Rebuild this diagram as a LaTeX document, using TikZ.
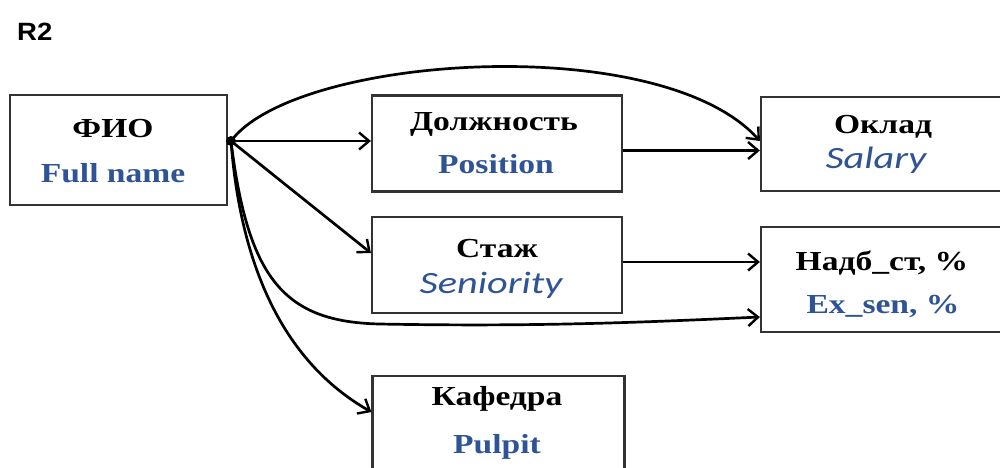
\documentclass[tikz,border=0pt]{standalone}
\usepackage{fontspec}
\setmainfont{Liberation Serif}
\newfontfamily\serifB{Liberation Serif}[FakeStretch=1.22]
\newfontfamily\calit{Carlito}[FakeStretch=1.3]
\newfontfamily\arialB{Liberation Sans}[FakeStretch=1.1]
\usetikzlibrary{arrows.meta}
\definecolor{txtblue}{RGB}{46,84,150}
\begin{document}
\begin{tikzpicture}[x=1pt,y=-1pt,
  box/.style={draw=black!80, line width=2.2pt, rectangle, inner sep=0pt},
  blk/.style={font=\serifB\bfseries\fontsize{27.5}{30}\selectfont, text=black, inner sep=0pt, anchor=base},
  blu/.style={font=\serifB\bfseries\fontsize{27.5}{30}\selectfont, text=txtblue, inner sep=0pt, anchor=base},
  itl/.style={font=\calit\itshape\fontsize{31}{34}\selectfont, text=txtblue, inner sep=0pt, anchor=base},
  conn/.style={line width=2.7pt, -{Straight Barb[length=10pt,width=17pt,line width=2.4pt]}}]
\useasboundingbox (0,0) rectangle (1000,467);
\clip (0,0) rectangle (1000,467);
\fill[white] (0,0) rectangle (1000,467);

\node[font=\arialB\bfseries\fontsize{25}{28}\selectfont, anchor=base west, inner sep=0pt] (r2) at (17,40) {R2};

\node[box, minimum width=217, minimum height=110] (fio) at (118.5,150) {};
\node[box, minimum width=250, minimum height=96] (dol) at (497,143.5) {};
\node[box, minimum width=250, minimum height=96] (staj) at (497,265) {};
\node[box, minimum width=252, minimum height=120] (kaf) at (498.5,436) {};
\node[box, minimum width=242, minimum height=94] (okl) at (882,144) {};
\node[box, minimum width=242, minimum height=105] (nadb) at (882,279.5) {};

\node[blk] (fio1) at (113,137) {ФИО};
\node[blu] (fio2) at (113,182) {Full name};
\node[blk] (dol1) at (494,130) {Должность};
\node[blu] (dol2) at (496,173) {Position};
\node[blk] (staj1) at (497,257) {Стаж};
\node[itl] (staj2) at (491,293) {Seniority};
\node[blk] (kaf1) at (497,405) {Кафедра};
\node[blu] (kaf2) at (497,453) {Pulpit};
\node[blk] (okl1) at (883,133) {Оклад};
\node[itl] (okl2) at (876,168) {Salary};
\node[blk] (nadb1) at (882,270) {Надб\_ст, \%};
\node[blu] (nadb2) at (883,313) {Ex\_sen, \%};

\coordinate (src) at (231,141);
\fill (src) circle (5);
\draw[conn] (src) -- (src -| dol.west);
\draw[conn] (src) -- ([yshift=12pt]staj.west);
\draw[conn] (src) .. controls (240,260) and (280,360) .. ([yshift=24pt]kaf.west);
\draw[conn] (src) .. controls (295,55) and (660,30) .. ([yshift=3pt]okl.west);
\draw[conn] (src) .. controls (248,280) and (285,322) .. (380,324) .. controls (540,327) and (650,322) .. ([yshift=-37.5pt]nadb.west);
\draw[conn] ([yshift=-7pt]dol.east) -- ([yshift=-7pt]dol.east -| okl.west);
\draw[conn] ([yshift=3pt]staj.east) -- ([yshift=3pt]staj.east -| nadb.west);
\end{tikzpicture}
\end{document}
